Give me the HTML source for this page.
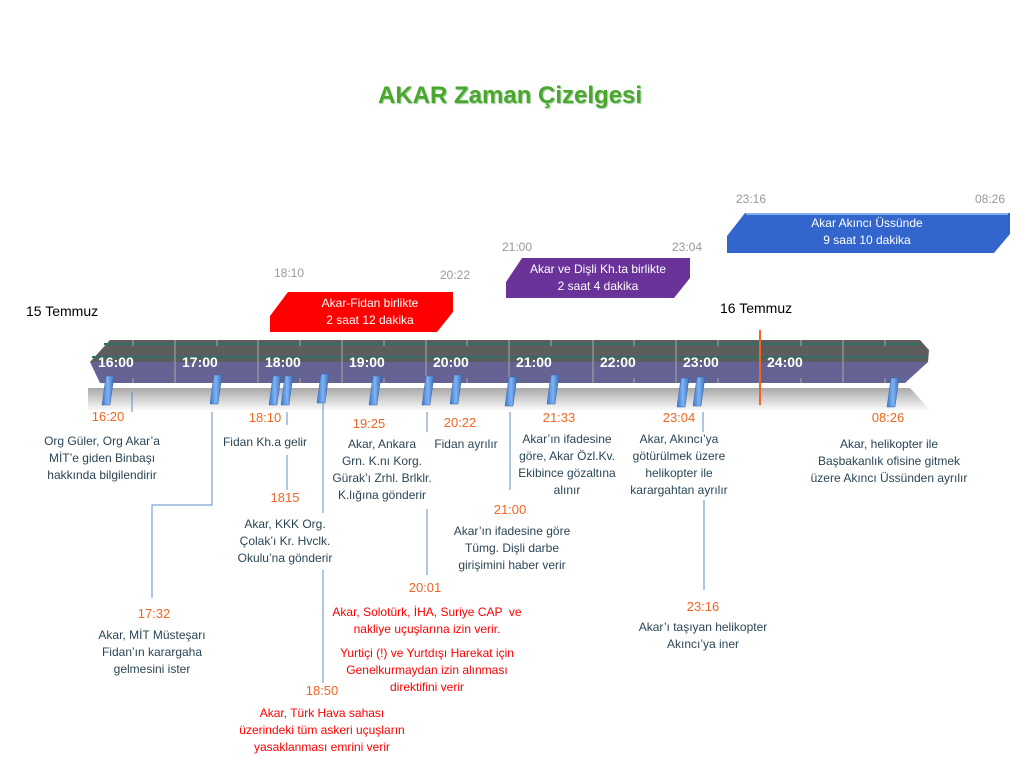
<!DOCTYPE html>
<html><head><meta charset="utf-8"><style>
body{margin:0;width:1021px;height:768px;background:#fff;position:relative;overflow:hidden;font-family:"Liberation Sans",sans-serif}
.t{position:absolute;text-align:center;font-size:12px;line-height:17px;color:#2b4555;white-space:nowrap}
.o{position:absolute;font-size:13px;color:#f26522;white-space:nowrap;transform:translateX(-50%)}
.r{color:#f00}
.g{position:absolute;font-size:12px;color:#999;}
.bx{position:absolute;color:#fff;font-size:12px;line-height:17px;text-align:center;}
</style></head><body>
<svg width="1021" height="768" style="position:absolute;left:0;top:0">
<defs>
<linearGradient id="sh" x1="0" y1="0" x2="0" y2="1"><stop offset="0" stop-color="#a8a8a8"/><stop offset="1" stop-color="#fafafa"/></linearGradient>
<linearGradient id="mk" x1="0" y1="0" x2="1" y2="0"><stop offset="0" stop-color="#3a7bd5"/><stop offset="0.5" stop-color="#7fb2f0"/><stop offset="1" stop-color="#3a6fc0"/></linearGradient>
</defs>
<polygon points="88,388 910,388 930,410 88,410" fill="url(#sh)"/>
<polygon points="110,340 920,340 929,350 928,362 90,362" fill="#5d5d5d"/>
<polygon points="90,362 928,362 905,383 100,383" fill="#656394"/>
<line x1="104" y1="344" x2="922" y2="344" stroke="#2f6e68" stroke-width="2"/>
<line x1="92" y1="357" x2="925" y2="357" stroke="#2f6e68" stroke-width="2"/>
<g stroke="#aaa" stroke-width="1">
<line x1="175" y1="340" x2="175" y2="383"/><line x1="258" y1="340" x2="258" y2="383"/><line x1="342" y1="340" x2="342" y2="383"/><line x1="426" y1="340" x2="426" y2="383"/><line x1="509" y1="340" x2="509" y2="383"/><line x1="593" y1="340" x2="593" y2="383"/><line x1="676" y1="340" x2="676" y2="383"/><line x1="760" y1="340" x2="760" y2="383"/><line x1="843" y1="340" x2="843" y2="383"/>
</g>
<g stroke="#aaa" stroke-width="1">
<path d="M133 340v6M133 378v5M217 340v6M217 378v5M300 340v6M300 378v5M384 340v6M384 378v5M467 340v6M467 378v5M551 340v6M551 378v5M634 340v6M634 378v5M718 340v6M718 378v5M801 340v6M801 378v5M885 340v6M885 378v5"/>
</g>
<line x1="760" y1="330" x2="760" y2="405" stroke="#f26522" stroke-width="2"/>
<g stroke="#5b8fc7" stroke-width="1" fill="none">
<path d="M132 392v20"/>
<path d="M212 412v93H152v93"/>
<path d="M287 412v13M287 455v35"/>
<path d="M323 400v113M323 570v113"/>
<path d="M427 412v20M427 509v66"/>
<path d="M510 412v78"/>
<path d="M703 412v20M704 500v90"/>
</g>
<g fill="url(#mk)" stroke="#3566a8" stroke-width="0.5">
<polygon points="106,376 114,376 110,405 102,405"/>
<polygon points="214,375 222,375 218,404 210,404"/>
<polygon points="273,376 281,376 277,405 269,405"/>
<polygon points="285,376 293,376 289,405 281,405"/>
<polygon points="321,374 329,374 325,403 317,403"/>
<polygon points="373,376 381,376 377,405 369,405"/>
<polygon points="426,376 434,376 430,405 422,405"/>
<polygon points="454,375 462,375 458,404 450,404"/>
<polygon points="509,377 517,377 513,406 505,406"/>
<polygon points="551,375 559,375 555,404 547,404"/>
<polygon points="681,378 689,378 685,407 677,407"/>
<polygon points="697,377 705,377 701,406 693,406"/>
<polygon points="891,378 899,378 895,407 887,407"/>
</g>
<polygon points="288,292 453,292 453,312 437,332 270,332 270,316" fill="#f00"/>
<polygon points="522,258 690,258 690,278 674,298 506,298 506,282" fill="#6a3399"/>
<polygon points="745,213 1010,213 1010,234 994,253 727,253 727,236" fill="#3366cc"/>
<line x1="746" y1="214" x2="1008" y2="214" stroke="#7fb0ea" stroke-width="2"/>
</svg>
<div style="position:absolute;left:378px;top:82px;font-size:24px;font-weight:bold;color:#4aa62c;text-shadow:1px 1px 1px #9c9">AKAR Zaman Çizelgesi</div>
<div style="position:absolute;left:26px;top:303px;font-size:14px;color:#000">15 Temmuz</div>
<div style="position:absolute;left:720px;top:300px;font-size:14px;color:#000">16 Temmuz</div>
<div style="position:absolute;top:354px;left:0;font-size:14px;font-weight:bold;color:#fff">
<span style="position:absolute;left:98px">16:00</span><span style="position:absolute;left:182px">17:00</span><span style="position:absolute;left:265px">18:00</span><span style="position:absolute;left:349px">19:00</span><span style="position:absolute;left:433px">20:00</span><span style="position:absolute;left:516px">21:00</span><span style="position:absolute;left:600px">22:00</span><span style="position:absolute;left:683px">23:00</span><span style="position:absolute;left:767px">24:00</span></div>
<div class="g" style="left:274px;top:266px">18:10</div>
<div class="g" style="left:440px;top:268px">20:22</div>
<div class="g" style="left:502px;top:240px">21:00</div>
<div class="g" style="left:672px;top:240px">23:04</div>
<div class="g" style="left:736px;top:192px">23:16</div>
<div class="g" style="left:975px;top:192px">08:26</div>
<div class="bx" style="left:270px;width:200px;top:295px">Akar-Fidan birlikte<br>2 saat 12 dakika</div>
<div class="bx" style="left:498px;width:200px;top:261px">Akar ve Dişli Kh.ta birlikte<br>2 saat 4 dakika</div>
<div class="bx" style="left:767px;width:200px;top:215px">Akar Akıncı Üssünde<br>9 saat 10 dakika</div>

<div class="o" style="left:108px;top:409px">16:20</div>
<div class="t" style="left:2px;width:200px;top:433px">Org Güler, Org Akar’a<br>MİT’e giden Binbaşı<br>hakkında bilgilendirir</div>
<div class="o" style="left:265px;top:410px">18:10</div>
<div class="t" style="left:165px;width:200px;top:434px">Fidan Kh.a gelir</div>
<div class="o" style="left:285px;top:490px">1815</div>
<div class="t" style="left:185px;width:200px;top:516px">Akar, KKK Org.<br>Çolak’ı Kr. Hvclk.<br>Okulu’na gönderir</div>
<div class="o" style="left:369px;top:416px">19:25</div>
<div class="t" style="left:282px;width:200px;top:436px">Akar, Ankara<br>Grn. K.nı Korg.<br>Gürak’ı Zrhl. Brlklr.<br>K.lığına gönderir</div>
<div class="o" style="left:460px;top:415px">20:22</div>
<div class="t" style="left:366px;width:200px;top:436px">Fidan ayrılır</div>
<div class="o" style="left:559px;top:410px">21:33</div>
<div class="t" style="left:467px;width:200px;top:431px">Akar’ın ifadesine<br>göre, Akar Özl.Kv.<br>Ekibince gözaltına<br>alınır</div>
<div class="o" style="left:510px;top:502px">21:00</div>
<div class="t" style="left:412px;width:200px;top:523px">Akar’ın ifadesine göre<br>Tümg. Dişli darbe<br>girişimini haber verir</div>
<div class="o" style="left:425px;top:580px">20:01</div>
<div class="t r" style="left:307px;width:240px;top:604px">Akar, Solotürk, İHA, Suriye CAP &nbsp;ve<br>nakliye uçuşlarına izin verir.</div>
<div class="t r" style="left:307px;width:240px;top:645px">Yurtiçi (!) ve Yurtdışı Harekat için<br>Genelkurmaydan izin alınması<br>direktifini verir</div>
<div class="o" style="left:322px;top:683px">18:50</div>
<div class="t r" style="left:222px;width:200px;top:705px">Akar, Türk Hava sahası<br>üzerindeki tüm askeri uçuşların<br>yasaklanması emrini verir</div>
<div class="o" style="left:154px;top:606px">17:32</div>
<div class="t" style="left:52px;width:200px;top:627px">Akar, MİT Müsteşarı<br>Fidan’ın karargaha<br>gelmesini ister</div>
<div class="o" style="left:679px;top:410px">23:04</div>
<div class="t" style="left:579px;width:200px;top:431px">Akar, Akıncı’ya<br>götürülmek üzere<br>helikopter ile<br>karargahtan ayrılır</div>
<div class="o" style="left:703px;top:599px">23:16</div>
<div class="t" style="left:603px;width:200px;top:619px">Akar’ı taşıyan helikopter<br>Akıncı’ya iner</div>
<div class="o" style="left:888px;top:410px">08:26</div>
<div class="t" style="left:779px;width:220px;top:436px">Akar, helikopter ile<br>Başbakanlık ofisine gitmek<br>üzere Akıncı Üssünden ayrılır</div>
</body></html>
